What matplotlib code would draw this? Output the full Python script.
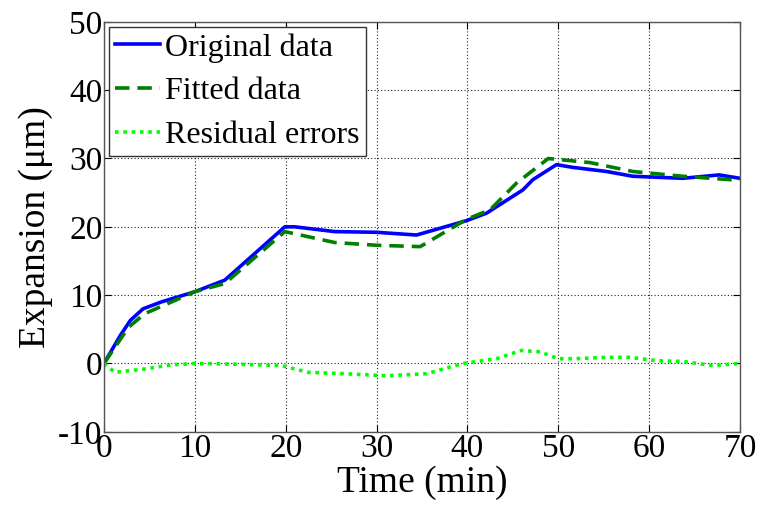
import matplotlib
matplotlib.use("Agg")
import matplotlib.pyplot as plt

# original data (blue)
t_orig = [0, 1.8, 2.9, 4.3, 6.3, 10, 13.3, 19.9, 21, 25.4, 30, 34.4, 39.9, 42.1,
          46.1, 47.2, 49.8, 51.6, 55.3, 58.2, 63.7, 67.7, 70]
y_orig = [0, 4.1, 6.3, 8.0, 9.0, 10.5, 12.2, 20.0, 20.0, 19.3, 19.2, 18.8, 20.9, 22.0,
          25.4, 26.9, 29.1, 28.7, 28.1, 27.4, 27.1, 27.6, 27.1]

# fitted data (dark green, dashed)
t_fit = [0, 2.7, 4.5, 10, 13.3, 19.9, 25.4, 30, 34.8, 39.9, 42.5, 45.4, 48.9,
         53.5, 58.2, 63.7, 68.9, 70]
y_fit = [0, 5.3, 7.3, 10.5, 11.7, 19.3, 17.7, 17.3, 17.1, 21.1, 22.5, 26.4, 30.0,
         29.4, 28.1, 27.4, 26.9, 27.0]

# residual errors (lime, dotted)
t_res = [0, 1.2, 4.5, 7.4, 10, 14.4, 19.5, 22.5, 26.5, 31.1, 35.5, 39.5, 43.2,
         45.9, 48.0, 50.0, 52.0, 55.3, 57.9, 60.8, 63.7, 67, 70]
y_res = [0, -1.3, -0.8, -0.2, 0, -0.1, -0.3, -1.3, -1.5, -1.8, -1.5, 0, 0.7,
         1.9, 1.7, 0.7, 0.7, 0.9, 0.9, 0.4, 0.3, -0.3, 0]

plt.rcParams['font.family'] = ['Liberation Serif', 'DejaVu Serif']
plt.rcParams['axes.unicode_minus'] = False

fig = plt.figure(figsize=(7.59, 5.08), dpi=100)
ax = fig.add_axes([0.137, 0.150, 0.838, 0.807])

ax.plot(t_orig, y_orig, color='#0000ff', lw=2.6, label='Original data')
ax.plot(t_fit, y_fit, color='#008000', lw=2.6, ls=(0, (4, 2.2)), label='Fitted data')
ax.plot(t_res, y_res, color='#00ff00', lw=2.6, ls=(0, (1, 1.3)), label='Residual errors')

ax.set_xlim(0, 70)
ax.set_ylim(-10, 50)
ax.set_xticks(range(0, 71, 10))
ax.set_yticks(range(-10, 51, 10))
ax.grid(True, color='#222222', ls=(0, (1, 2)), lw=0.8)
ax.tick_params(direction='in', top=True, right=True, labelsize=24, length=5, pad=1)
for s in ax.spines.values():
    s.set_color('#555555')
    s.set_linewidth(1.0)

ax.set_xlabel('Time (min)', fontsize=27, labelpad=1)
ax.set_ylabel('Expansion (μm)', fontsize=27, labelpad=4)

leg = ax.legend(loc='upper left', fontsize=23, fancybox=False, framealpha=1,
                edgecolor='#333333', handlelength=1.4, handletextpad=0.15,
                borderpad=0.2, labelspacing=0.45, borderaxespad=0.15)
leg.get_frame().set_linewidth(1.0)

fig.savefig('out.png', dpi=100)
